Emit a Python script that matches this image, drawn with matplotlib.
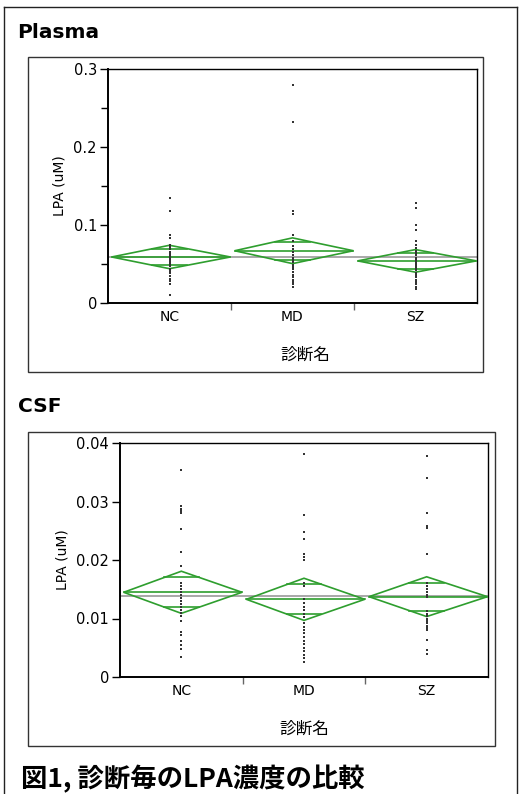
import matplotlib
matplotlib.use('Agg')
import matplotlib.pyplot as plt
from matplotlib.patches import Rectangle, Polygon
from matplotlib.lines import Line2D
import numpy as np

plt.rcParams['font.family'] = ['DejaVu Sans', 'Noto Sans CJK JP']
CJK = ['Noto Sans CJK JP', 'DejaVu Sans']

groups = ['NC', 'MD', 'SZ']

# Plasma
plasma_nc = [0.135, 0.118, 0.087, 0.083, 0.074, 0.072, 0.069, 0.066, 0.063, 0.060, 0.058,
             0.055, 0.052, 0.050, 0.047, 0.044, 0.041, 0.038, 0.034, 0.031, 0.028, 0.025, 0.010]
plasma_md = [0.279, 0.232, 0.118, 0.114, 0.087, 0.080, 0.073, 0.069, 0.065, 0.061, 0.058,
             0.055, 0.052, 0.049, 0.046, 0.043, 0.040, 0.036, 0.033, 0.030, 0.027, 0.024, 0.021]
plasma_sz = [0.128, 0.122, 0.100, 0.094, 0.079, 0.074, 0.070, 0.067, 0.064, 0.061, 0.058, 0.056,
             0.054, 0.052, 0.050, 0.048, 0.045, 0.042, 0.039, 0.036, 0.033, 0.030, 0.027, 0.024,
             0.021, 0.018]
plasma_mean = [0.059, 0.067, 0.054]
plasma_ci = [0.0150, 0.0165, 0.0145]
plasma_grand = 0.0585

# CSF
csf_nc = [0.0353, 0.0292, 0.0288, 0.0284, 0.0280, 0.0253, 0.0213, 0.0189, 0.0160, 0.0155, 0.0150,
          0.0145, 0.0140, 0.0135, 0.0130, 0.0125, 0.0120, 0.0115, 0.0110, 0.0104, 0.0095, 0.0077,
          0.0072, 0.0062, 0.0055, 0.0048, 0.0035]
csf_md = [0.0381, 0.0277, 0.0248, 0.0236, 0.0211, 0.0205, 0.0200, 0.0160, 0.0155, 0.0134, 0.0126,
          0.0120, 0.0114, 0.0108, 0.0103, 0.0092, 0.0086, 0.0080, 0.0075, 0.0068, 0.0062, 0.0056,
          0.0050, 0.0044, 0.0038, 0.0032, 0.0026]
csf_sz = [0.0378, 0.0341, 0.0280, 0.0258, 0.0255, 0.0211, 0.0160, 0.0155, 0.0150, 0.0145, 0.0141,
          0.0137, 0.0112, 0.0108, 0.0104, 0.0100, 0.0096, 0.0092, 0.0088, 0.0084, 0.0080, 0.0063,
          0.0046, 0.0040]
csf_mean = [0.01448, 0.01328, 0.01373]
csf_ci = [0.0036, 0.0036, 0.0034]
csf_grand = 0.0139

W, H = 519, 794
fig = plt.figure(figsize=(W / 100, H / 100), dpi=100)
GREEN = '#2e9e2e'


def fx(x):
    return x / W


def fy(y):
    return 1 - y / H


def panel(axbox, data, means, cis, grand, ymax, yticks, minor):
    l, t, r, b = axbox
    ax = fig.add_axes([fx(l), fy(b), fx(r) - fx(l), fy(t) - fy(b)])
    ax.set_xlim(0, 3)
    ax.set_ylim(0, ymax)
    ax.axhline(grand, color='#999999', lw=1.2, zorder=1)
    for i, vals in enumerate(data):
        xc = i + 0.5
        xl, xr = i + 0.03, i + 0.995
        m, h = means[i], cis[i]
        ax.add_patch(Polygon([(xl, m), (xc, m + h), (xr, m), (xc, m - h)], closed=True,
                             fill=False, edgecolor=GREEN, lw=1.2, zorder=3))
        ax.plot([xl, xr], [m, m], color=GREEN, lw=1.2, zorder=3)
        k = 1 / np.sqrt(2)
        hw = (1 - k) * 0.48
        for s in (1, -1):
            ax.plot([xc - hw, xc + hw], [m + s * h * k] * 2, color=GREEN, lw=1.2, zorder=3)
        ax.plot([xc] * len(vals), vals, 's', color='#333333', ms=2.0, mew=0, zorder=4)
    ax.set_yticks(yticks)
    ax.set_yticklabels(['0'] + [('%g' % v) for v in yticks[1:]], fontsize=10.5)
    if minor:
        ax.set_yticks(minor, minor=True)
    ax.tick_params(axis='y', which='major', length=6, width=1, direction='out', pad=2)
    ax.tick_params(axis='y', which='minor', length=5, width=1, direction='out')
    ax.set_xticks([1, 2])
    ax.set_xticklabels([])
    ax.tick_params(axis='x', which='major', length=5, width=1, color='#666666')
    ax.set_xticks([0.5, 1.5, 2.5], minor=True)
    ax.set_xticklabels(groups, minor=True, fontsize=10)
    ax.tick_params(axis='x', which='minor', length=0, pad=5)
    for sp in ax.spines.values():
        sp.set_color('black')
        sp.set_linewidth(1.0)
    ax.spines['left'].set_linewidth(1.4)
    ax.spines['bottom'].set_linewidth(1.4)
    ax.set_ylabel('LPA (uM)', fontsize=10, labelpad=5)
    return ax


def box(l, t, r, b):
    fig.add_artist(Rectangle((fx(l), fy(b)), fx(r) - fx(l), fy(t) - fy(b), fill=False,
                             edgecolor='#333333', lw=1.0, transform=fig.transFigure))


# outer frame
fig.add_artist(Line2D([fx(3.5), fx(3.5)], [fy(7), 0], color='#222222', lw=1.0))
fig.add_artist(Line2D([fx(3.5), fx(517)], [fy(7), fy(7)], color='#222222', lw=1.0))
fig.add_artist(Line2D([fx(517), fx(517)], [fy(7), 0], color='#222222', lw=1.0))

# Plasma
fig.text(fx(17), fy(33), 'Plasma', fontsize=14.5, fontweight='bold', va='center', ha='left')
box(28, 57, 483, 372)
panel((108, 69, 477, 303), [plasma_nc, plasma_md, plasma_sz], plasma_mean, plasma_ci,
      plasma_grand, 0.3, [0, 0.1, 0.2, 0.3], [0.05, 0.15, 0.25])
fig.text(fx(305), fy(355), '診断名', fontsize=12, family=CJK, ha='center', va='center')

# CSF
fig.text(fx(18), fy(406), 'CSF', fontsize=14.5, fontweight='bold', va='center', ha='left')
box(28, 432, 495, 746)
panel((120, 443, 488, 677), [csf_nc, csf_md, csf_sz], csf_mean, csf_ci,
      csf_grand, 0.04, [0, 0.01, 0.02, 0.03, 0.04], None)
fig.text(fx(304), fy(729), '診断名', fontsize=12, family=CJK, ha='center', va='center')

fig.text(fx(21), fy(779), '図1, 診断毎のLPA濃度の比較', fontsize=19, fontweight='bold',
         family=CJK, ha='left', va='center')

fig.savefig('out.png', dpi=100)
